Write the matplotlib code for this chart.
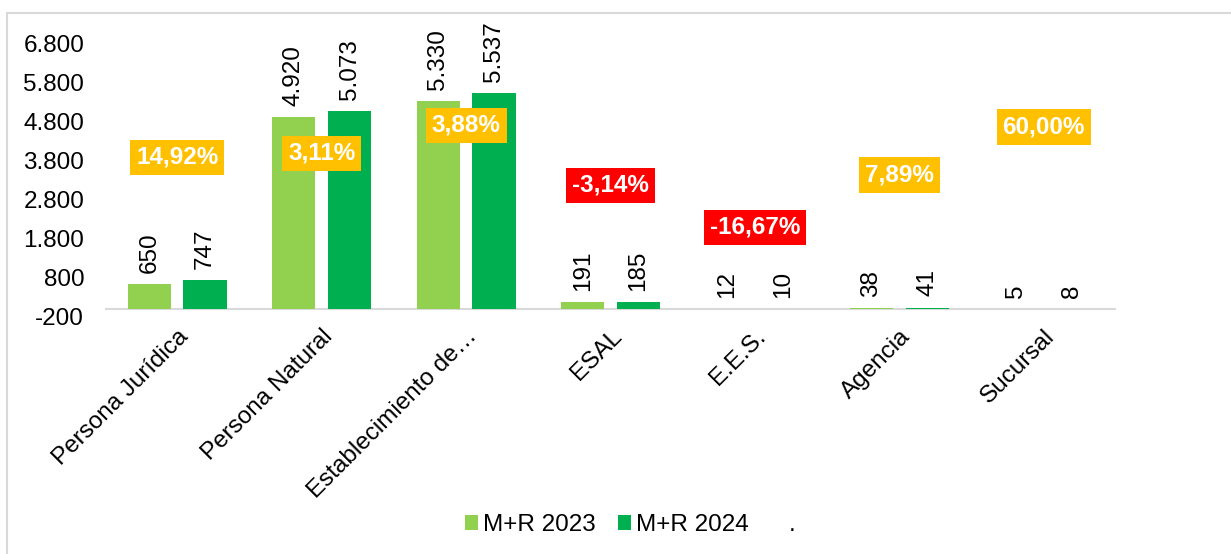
import matplotlib.pyplot as plt
from matplotlib.patches import Rectangle, Patch

plt.rcParams['font.family'] = ['Liberation Sans', 'DejaVu Sans']

categories = ['Persona Jurídica', 'Persona Natural', 'Establecimiento de…',
              'ESAL', 'E.E.S.', 'Agencia', 'Sucursal']
mr_2023 = [650, 4920, 5330, 191, 12, 38, 5]
mr_2024 = [747, 5073, 5537, 185, 10, 41, 8]
variation = ['14,92%', '3,11%', '3,88%', '-3,14%', '-16,67%', '7,89%', '60,00%']
variation_y = [3900, 4000, 4720, 3180, 2100, 3440, 4670]
yticks = [-200, 800, 1800, 2800, 3800, 4800, 5800, 6800]

c23 = '#92D050'
c24 = '#00B050'
FS = 17.5


def fmt(v):
    return f'{v:,}'.replace(',', '.')


fig = plt.figure(figsize=(12.31, 5.54), dpi=100)
ax = fig.add_axes([0.0853, 0.4278, 0.8213, 0.4928])

# light frame around the chart area
fig.patches.append(Rectangle((7 / 1231, -0.1), 1.2, 1 - 13 / 554 + 0.1,
                             transform=fig.transFigure, fill=False,
                             edgecolor='#d9d9d9', linewidth=1.5))

x = list(range(len(categories)))
w = 0.30
off = 0.193
b1 = ax.bar([i - off for i in x], mr_2023, w, color=c23, label='M+R 2023')
b2 = ax.bar([i + off for i in x], mr_2024, w, color=c24, label='M+R 2024')

for bars, vals in [(b1, mr_2023), (b2, mr_2024)]:
    for rect, v in zip(bars, vals):
        ax.annotate(fmt(v), (rect.get_x() + rect.get_width() / 2, v),
                    xytext=(0, 8), textcoords='offset points',
                    rotation=90, ha='center', va='bottom', fontsize=FS,
                    annotation_clip=False)

for i, (txt, yv) in enumerate(zip(variation, variation_y)):
    bg = '#FF0000' if txt.startswith('-') else '#FFC000'
    ax.text(i, yv, txt, ha='center', va='center', fontsize=FS,
            fontweight='bold', color='white',
            bbox=dict(boxstyle='square,pad=0.25', facecolor=bg, edgecolor='none'))

ax.axhline(0, color='#d9d9d9', linewidth=1.5, zorder=0)
ax.set_xlim(-0.5, 6.5)
ax.set_ylim(-200, 6800)
ax.set_yticks(yticks)
ax.set_yticklabels([fmt(t) for t in yticks], fontsize=FS)
ax.set_xticks(x)
ax.set_xticklabels(categories, rotation=45, ha='right', rotation_mode='anchor',
                   fontsize=FS)
ax.tick_params(axis='both', length=0)
ax.tick_params(axis='x', pad=6)
ax.tick_params(axis='y', pad=15)
for s in ax.spines.values():
    s.set_visible(False)

handles = [b1, b2, Patch(facecolor='none', edgecolor='none')]
labels = ['M+R 2023', 'M+R 2024', '.']
fig.legend(handles, labels, loc='center', bbox_to_anchor=(0.512, 1 - 525 / 554),
           ncol=3, frameon=False, fontsize=FS, handlelength=0.55,
           handleheight=0.55, handletextpad=0.2, columnspacing=0.9)

fig.savefig('out.png', dpi=100, facecolor='white')
